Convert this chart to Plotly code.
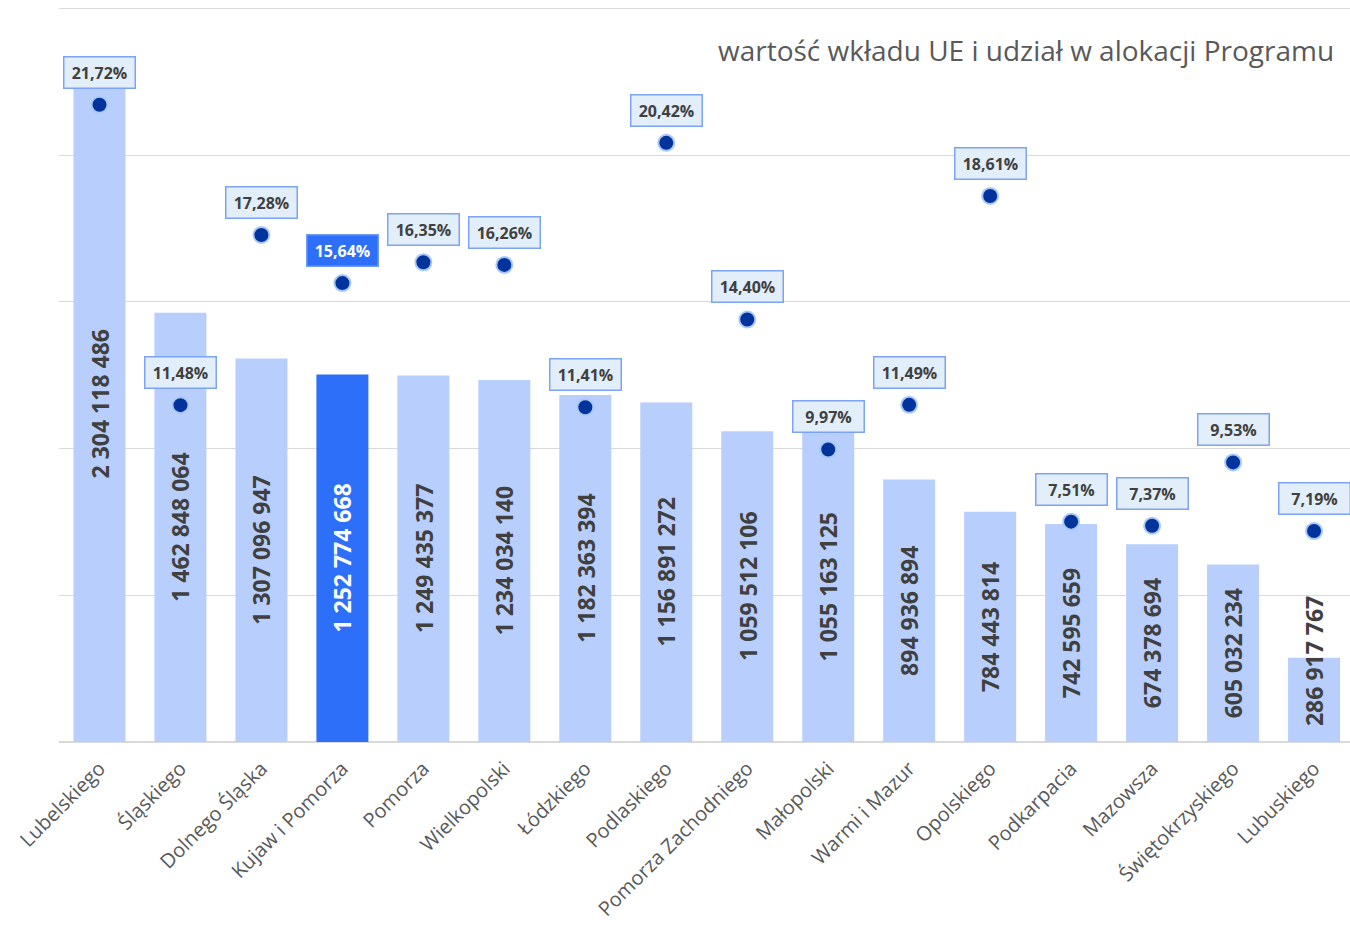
import plotly.graph_objects as go

categories = ["Lubelskiego", "Śląskiego", "Dolnego Śląska", "Kujaw i Pomorza", "Pomorza",
              "Wielkopolski", "Łódzkiego", "Podlaskiego", "Pomorza Zachodniego", "Małopolski",
              "Warmi i Mazur", "Opolskiego", "Podkarpacia", "Mazowsza", "Świętokrzyskiego",
              "Lubuskiego"]
eu_values = [2304118486, 1462848064, 1307096947, 1252774668, 1249435377,
             1234034140, 1182363394, 1156891272, 1059512106, 1055163125,
             894936894, 784443814, 742595659, 674378694, 605032234,
             286917767]
shares = [21.72, 11.48, 17.28, 15.64, 16.35, 16.26, 11.41, 20.42, 14.40, 9.97,
          11.49, 18.61, 7.51, 7.37, 9.53, 7.19]
highlight = "Kujaw i Pomorza"
title_text = "wartość wkładu UE i udział w alokacji Programu"

W, H = 1350, 926
M_L, M_R, M_T, M_B = 58.5, 0, 6.5, 184
Y_MAX = 2.5e9
Y_TOP = 2.505e9
Y2_TOP = 25 * Y_TOP / Y_MAX
plot_h = H - M_T - M_B

BAR_LIGHT = "#b8cefc"
BAR_HI = "#2d6ff9"
DOT = "#00349c"
FONT = "Open Sans"


def fmt_int(v):
    return f"{v:,}".replace(",", " ")


def fmt_pct(p):
    return f"{p:.2f}%".replace(".", ",")


bar_colors = [BAR_HI if c == highlight else BAR_LIGHT for c in categories]

fig = go.Figure()
fig.add_trace(go.Bar(
    x=categories, y=eu_values, marker=dict(color=bar_colors, line=dict(width=0)),
    hoverinfo="skip", showlegend=False,
))
fig.add_trace(go.Scatter(
    x=categories, y=shares, yaxis="y2", mode="markers",
    marker=dict(size=16, color=DOT, line=dict(width=2, color="#a9c8f8")),
    hoverinfo="skip", showlegend=False,
))

annotations = []
BAR_FS = 23
for c, v in zip(categories, eu_values):
    txt = fmt_int(v)
    digits = sum(ch.isdigit() for ch in txt)
    spaces = txt.count(" ")
    label_len = BAR_FS * (0.572 * digits + 0.26 * spaces)
    bar_px = v / Y_TOP * plot_h
    col = "#ffffff" if c == highlight else "#404040"
    if label_len + 28 > bar_px:
        annotations.append(dict(x=c, y=0, xref="x", yref="y", text=txt, textangle=-90,
                                showarrow=False, yanchor="bottom", yshift=14,
                                font=dict(family=FONT, size=BAR_FS, color=col, weight="bold")))
    else:
        annotations.append(dict(x=c, y=v / 2, xref="x", yref="y", text=txt, textangle=-90,
                                showarrow=False, yanchor="middle",
                                font=dict(family=FONT, size=BAR_FS, color=col, weight="bold")))

for c, p in zip(categories, shares):
    hi = c == highlight
    annotations.append(dict(
        x=c, y=p, xref="x", yref="y2", text=fmt_pct(p), showarrow=False,
        yanchor="bottom", yshift=16, width=62, align="center",
        bgcolor=BAR_HI if hi else "#e2eefa",
        bordercolor="#6f9af6" if hi else "#7da3f6", borderwidth=1.5, borderpad=4,
        font=dict(family=FONT, size=16, color="#ffffff" if hi else "#404040", weight="bold"),
    ))

annotations.append(dict(
    xref="paper", yref="paper", x=1, y=(plot_h - (50 - M_T)) / plot_h,
    xanchor="right", yanchor="middle", xshift=-14, text=title_text, showarrow=False,
    font=dict(family=FONT, size=28, color="#595959"),
))

n = len(categories)
fig.update_layout(
    width=W, height=H, autosize=False,
    margin=dict(l=M_L, r=M_R, t=M_T, b=M_B, pad=0, autoexpand=False),
    paper_bgcolor="white", plot_bgcolor="white",
    bargap=0.358,
    xaxis=dict(type="category", range=[-0.5, n - 0.5 - 0.056], showgrid=False,
               showline=False, ticks="", tickangle=-45, ticklabelstandoff=10,
               automargin=False,
               tickfont=dict(family=FONT, size=20, color="#595959")),
    yaxis=dict(range=[0, Y_TOP], dtick=0.5e9, showgrid=True, gridcolor="#d9d9d9",
               gridwidth=1.3, zeroline=True, zerolinecolor="#d9d9d9", zerolinewidth=2,
               showticklabels=False, ticks="", fixedrange=True, automargin=False),
    yaxis2=dict(range=[0, Y2_TOP], overlaying="y", visible=False, showgrid=False,
                automargin=False),
    annotations=annotations,
    font=dict(family=FONT),
)

fig.write_html("out.html", config={"displayModeBar": False},
               post_script="document.body.style.margin='0px';document.body.style.overflow='hidden';")
